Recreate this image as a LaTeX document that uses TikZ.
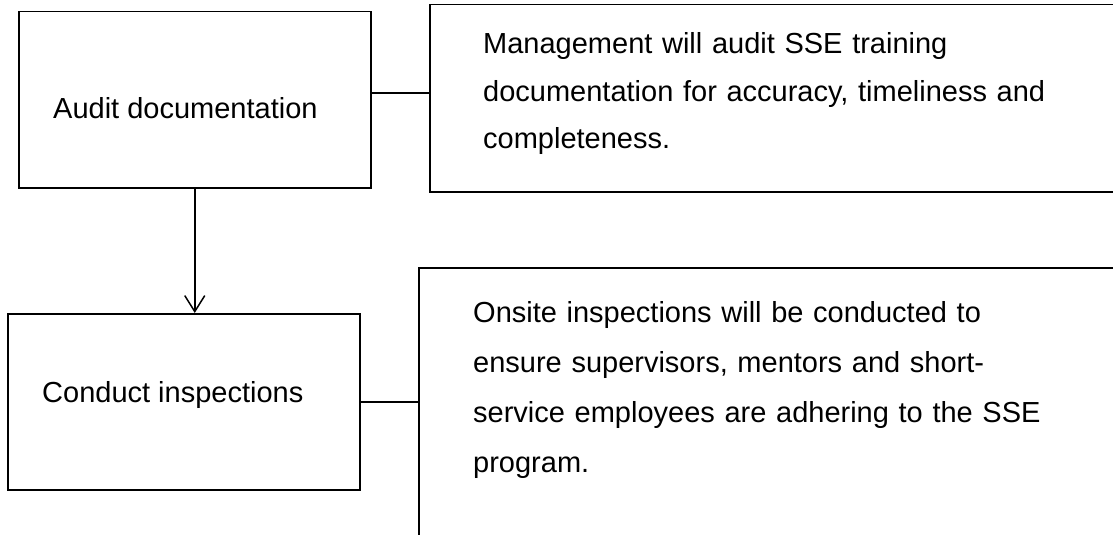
\documentclass[tikz,border=0pt]{standalone}
\usepackage{fontspec}
\setmainfont{Liberation Sans}
\usetikzlibrary{arrows.meta}
\begin{document}
\begin{tikzpicture}[x=1pt,y=-1pt,
  box/.style={draw=black, line width=1.5pt, rectangle, inner sep=0pt, anchor=north west},
  lbl/.style={inner sep=0pt, anchor=base west, font=\fontsize{29}{35}\selectfont},
  para/.style={inner sep=0pt, anchor=base west, text width=700pt, align=left},
  conn/.style={line width=1.5pt},
  arr/.style={line width=1.5pt, -{Straight Barb[length=16pt,width=20pt,line width=1.5pt]}}]
\useasboundingbox (0,0) rectangle (1113,535);
\clip (0,0) rectangle (1113,535);
\fill[white] (0,0) rectangle (1113,535);
% boxes
\node[box, minimum width=352pt, minimum height=176pt] (b1) at (18,11) {};
\node[box, minimum width=720pt, minimum height=187pt] (b2) at (429,4) {};
\node[box, minimum width=352pt, minimum height=176pt] (b3) at (7,313) {};
\node[box, minimum width=720pt, minimum height=300pt] (b4) at (418,267) {};
% texts
\node[lbl] (t1) at (53,118) {Audit documentation};
\node[lbl] (t3) at (42,402) {Conduct inspections};
\node[para, font=\fontsize{29}{47.5}\selectfont] (t2) at (483,54)
  {Management will audit SSE training\\documentation for accuracy, timeliness and\\completeness.};
\node[para, font=\fontsize{29}{50.3}\selectfont] (t4) at (473,322)
  {Onsite inspections will be conducted to\\ensure supervisors, mentors and short-\\service employees are adhering to the SSE\\program.};
% connectors
\coordinate (c1) at (0,93);
\draw[conn] (b1.east |- c1) -- (b2.west |- c1);
\draw[conn] (b3.east) -- (b3.east -| b4.west);
\draw[arr] (b1.south) -- (b1.south |- b3.north);
\end{tikzpicture}
\end{document}
